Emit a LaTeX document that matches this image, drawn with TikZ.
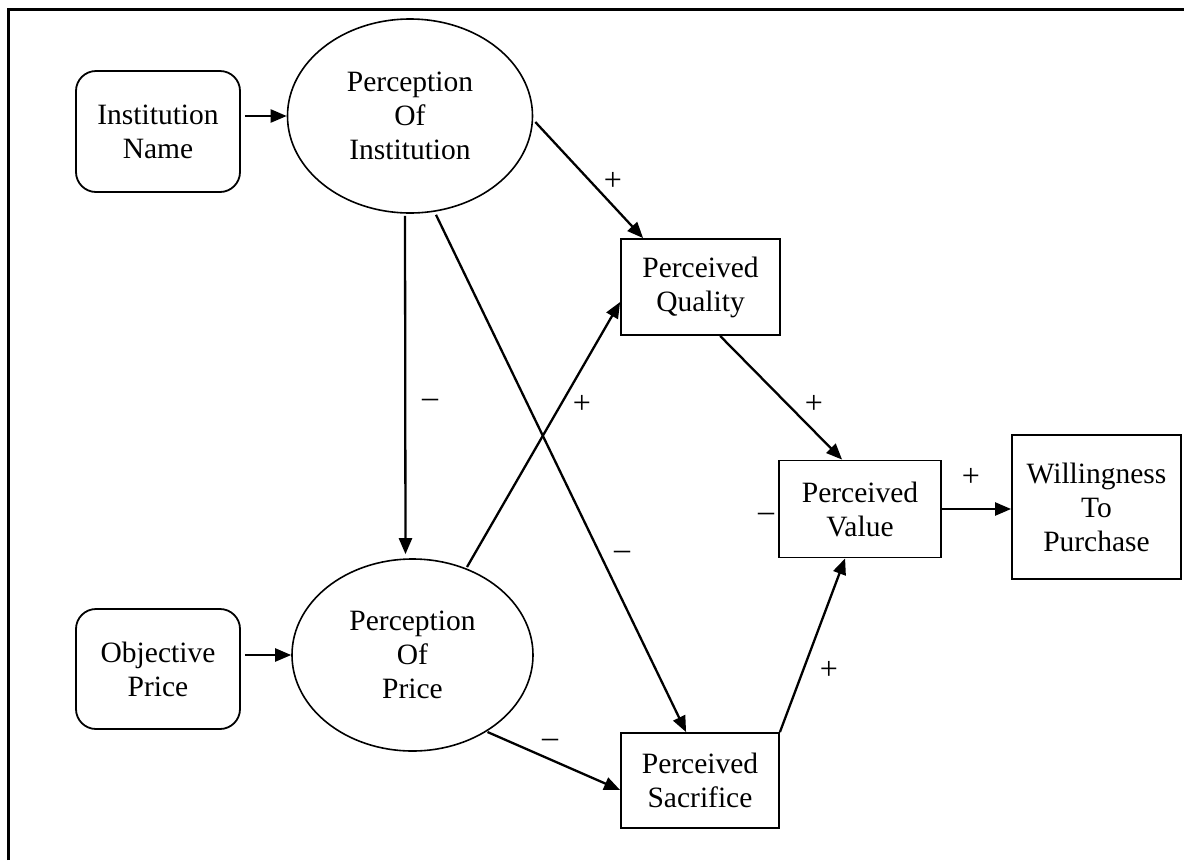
\documentclass[tikz,border=0pt]{standalone}
\usepackage{fontspec}
\setmainfont{Liberation Serif}
\usetikzlibrary{arrows.meta,shapes.geometric,calc}
\begin{document}
\begin{tikzpicture}[x=1pt,y=-1pt,
  every node/.style={font=\fontsize{29.5}{34}\selectfont, align=center, inner sep=0pt},
  rbox/.style={draw, line width=1.8pt, rounded corners=20pt},
  sbox/.style={draw, line width=1.8pt},
  ell/.style={draw, ellipse, line width=1.6pt},
  arr/.style={line width=2.3pt, -{Triangle[length=16pt,width=13pt]}},
  lbl/.style={font=\fontsize{32}{36}\selectfont}]
\useasboundingbox (0,0) rectangle (1184,860);
\coordinate (fb) at (8,860);
\coordinate (fc) at (8,9);
\coordinate (fr) at (1184,9);
\draw[line width=3pt] (fb) -- (fc) -- (fr);

\node[rbox, minimum width=164pt, minimum height=121pt] (IN) at (158,131.5) {Institution\\Name};
\node[rbox, minimum width=164pt, minimum height=120pt] (OP) at (158,669) {Objective\\Price};
\node[ell, minimum width=245pt, minimum height=194pt] (PoI) at (410,116) {Perception\\Of\\Institution};
\node[ell, minimum width=241pt, minimum height=192pt] (PoP) at (412.5,655) {Perception\\Of\\Price};
\node[sbox, minimum width=159pt, minimum height=96pt] (PQ) at (700.5,287) {Perceived\\Quality};
\node[sbox, minimum width=162pt, minimum height=97pt] (PV) at (860,509) {Perceived\\Value};
\node[sbox, minimum width=169pt, minimum height=144pt] (W) at (1096.5,507) {Willingness\\To\\Purchase};
\node[sbox, minimum width=158pt, minimum height=95pt] (PS) at (700,780.5) {Perceived\\Sacrifice};

\draw[arr] ($(IN.east |- PoI.west)+(4,0)$) -- (PoI.west);
\draw[arr] ($(OP.east |- PoP.west)+(4,0)$) -- (PoP.west);
\draw[arr] ($(PoI.east)+(2,6)$) -- ($(PQ.north west)+(23,0)$);
\draw[arr] ($(PoI.south)+(-5,2)$) -- ($(PoP.north)+(-7,-4)$);
\draw[arr] ($(PoI.south)+(26,1)$) -- ($(PS.north west)+(66,0)$);
\draw[arr] ($(PoP.center)+(54.5,-88)$) -- ($(PQ.west)+(0,15)$);
\draw[arr] ($(PoP.center)+(75,77)$) -- ($(PS.west)+(0,9.5)$);
\draw[arr] ($(PQ.south west)+(100,0)$) -- ($(PV.north west)+(64,0)$);
\draw[arr] (PS.north east) -- ($(PV.south west)+(67,0)$);
\draw[arr] (PV.east) -- (PV.east -| W.west);

\node[lbl] (l1) at (613,181) {+};
\node[lbl] (l2) at (430,403) {–};
\node[lbl] (l3) at (582,404) {+};
\node[lbl] (l4) at (622,555) {–};
\node[lbl] (l5) at (814,404) {+};
\node[lbl] (l6) at (766,517) {–};
\node[lbl] (l7) at (971,477) {+};
\node[lbl] (l8) at (829,670) {+};
\node[lbl] (l9) at (550,743) {–};
\end{tikzpicture}
\end{document}
